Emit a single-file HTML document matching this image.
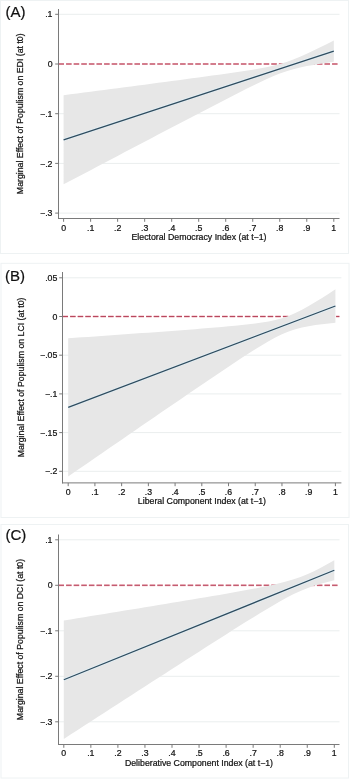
<!DOCTYPE html>
<html><head><meta charset="utf-8"><style>
html,body{margin:0;padding:0;background:#fff;width:350px;height:779px;overflow:hidden}
svg{display:block;will-change:transform}
text{font-family:"Liberation Sans", sans-serif;font-size:8.75px;fill:#111;stroke:#111;stroke-width:0.22px}
</style></head><body>
<svg width="350" height="779" viewBox="0 0 350 779">
<rect x="0.5" y="0.5" width="348.0" height="253.0" fill="#fff" stroke="#eef2f3" stroke-width="1"/>
<line x1="58.5" x2="339.5" y1="14.30" y2="14.30" stroke="#eaeeee" stroke-width="1"/>
<line x1="58.5" x2="339.5" y1="113.70" y2="113.70" stroke="#eaeeee" stroke-width="1"/>
<line x1="58.5" x2="339.5" y1="163.40" y2="163.40" stroke="#eaeeee" stroke-width="1"/>
<line x1="58.5" x2="339.5" y1="213.10" y2="213.10" stroke="#eaeeee" stroke-width="1"/>
<line x1="58.5" x2="337.5" y1="64.00" y2="64.00" stroke="#eeb2bc" stroke-width="1.9" stroke-dasharray="5.5 2.1"/>
<line x1="58.5" x2="337.5" y1="64.00" y2="64.00" stroke="#b8485e" stroke-width="1.0" stroke-dasharray="5.5 2.1"/>
<polygon points="63.60,95.23 70.36,94.35 77.11,93.48 83.87,92.60 90.62,91.72 97.38,90.83 104.13,89.95 110.89,89.07 117.64,88.19 124.40,87.30 131.15,86.42 137.91,85.53 144.66,84.64 151.41,83.75 158.17,82.86 164.92,81.97 171.68,81.07 178.44,80.17 185.19,79.27 191.94,78.36 198.70,77.45 205.45,76.53 212.21,75.60 218.97,74.66 225.72,73.71 232.47,72.74 239.23,71.75 245.98,70.72 252.74,69.64 259.50,68.49 266.25,67.23 273.00,65.79 279.76,64.08 286.52,62.03 293.27,59.59 300.02,56.80 306.78,53.77 313.54,50.58 320.29,47.28 327.05,43.92 333.80,40.50 333.80,61.65 327.05,62.67 320.29,63.74 313.54,64.88 306.78,66.12 300.02,67.53 293.27,69.18 286.52,71.18 279.76,73.56 273.00,76.29 266.25,79.29 259.50,82.46 252.74,85.74 245.98,89.10 239.23,92.51 232.47,95.95 225.72,99.41 218.97,102.90 212.21,106.40 205.45,109.91 198.70,113.42 191.94,116.94 185.19,120.47 178.44,124.01 171.68,127.54 164.92,131.08 158.17,134.62 151.41,138.17 144.66,141.71 137.91,145.26 131.15,148.81 124.40,152.36 117.64,155.91 110.89,159.46 104.13,163.02 97.38,166.57 90.62,170.13 83.87,173.68 77.11,177.24 70.36,180.79 63.60,184.35" fill="#e7e7e7"/>
<line x1="63.60" y1="139.79" x2="333.80" y2="51.08" stroke="#e2f0f6" stroke-width="2.6"/>
<line x1="63.60" y1="139.79" x2="333.80" y2="51.08" stroke="#2f4b5e" stroke-width="1.25"/>
<line x1="58.5" x2="58.5" y1="9" y2="219.0" stroke="#7a7a7a" stroke-width="1.0"/>
<line x1="58.0" x2="339.5" y1="218.5" y2="218.5" stroke="#7a7a7a" stroke-width="1.0"/>
<line x1="55.2" x2="58.5" y1="14.30" y2="14.30" stroke="#7a7a7a" stroke-width="1.0"/>
<text x="52.5" y="17.40" text-anchor="end">.1</text>
<line x1="55.2" x2="58.5" y1="64.00" y2="64.00" stroke="#7a7a7a" stroke-width="1.0"/>
<text x="52.5" y="67.10" text-anchor="end">0</text>
<line x1="55.2" x2="58.5" y1="113.70" y2="113.70" stroke="#7a7a7a" stroke-width="1.0"/>
<text x="52.5" y="116.80" text-anchor="end">−.1</text>
<line x1="55.2" x2="58.5" y1="163.40" y2="163.40" stroke="#7a7a7a" stroke-width="1.0"/>
<text x="52.5" y="166.50" text-anchor="end">−.2</text>
<line x1="55.2" x2="58.5" y1="213.10" y2="213.10" stroke="#7a7a7a" stroke-width="1.0"/>
<text x="52.5" y="216.20" text-anchor="end">−.3</text>
<line x1="63.60" x2="63.60" y1="218.5" y2="221.8" stroke="#7a7a7a" stroke-width="1.0"/>
<text x="63.60" y="230.80" text-anchor="middle">0</text>
<line x1="90.62" x2="90.62" y1="218.5" y2="221.8" stroke="#7a7a7a" stroke-width="1.0"/>
<text x="90.62" y="230.80" text-anchor="middle">.1</text>
<line x1="117.64" x2="117.64" y1="218.5" y2="221.8" stroke="#7a7a7a" stroke-width="1.0"/>
<text x="117.64" y="230.80" text-anchor="middle">.2</text>
<line x1="144.66" x2="144.66" y1="218.5" y2="221.8" stroke="#7a7a7a" stroke-width="1.0"/>
<text x="144.66" y="230.80" text-anchor="middle">.3</text>
<line x1="171.68" x2="171.68" y1="218.5" y2="221.8" stroke="#7a7a7a" stroke-width="1.0"/>
<text x="171.68" y="230.80" text-anchor="middle">.4</text>
<line x1="198.70" x2="198.70" y1="218.5" y2="221.8" stroke="#7a7a7a" stroke-width="1.0"/>
<text x="198.70" y="230.80" text-anchor="middle">.5</text>
<line x1="225.72" x2="225.72" y1="218.5" y2="221.8" stroke="#7a7a7a" stroke-width="1.0"/>
<text x="225.72" y="230.80" text-anchor="middle">.6</text>
<line x1="252.74" x2="252.74" y1="218.5" y2="221.8" stroke="#7a7a7a" stroke-width="1.0"/>
<text x="252.74" y="230.80" text-anchor="middle">.7</text>
<line x1="279.76" x2="279.76" y1="218.5" y2="221.8" stroke="#7a7a7a" stroke-width="1.0"/>
<text x="279.76" y="230.80" text-anchor="middle">.8</text>
<line x1="306.78" x2="306.78" y1="218.5" y2="221.8" stroke="#7a7a7a" stroke-width="1.0"/>
<text x="306.78" y="230.80" text-anchor="middle">.9</text>
<line x1="333.80" x2="333.80" y1="218.5" y2="221.8" stroke="#7a7a7a" stroke-width="1.0"/>
<text x="333.80" y="230.80" text-anchor="middle">1</text>
<text x="199.00" y="240" text-anchor="middle">Electoral Democracy Index (at t−1)</text>
<text transform="translate(23.4,113.75) rotate(-90)" text-anchor="middle">Marginal Effect of Populism on EDI (at t0)</text>
<text x="5.5" y="17.2" style="font-size:15px">(A)</text>
<rect x="1" y="263.3" width="348" height="254.2" fill="#fff" stroke="#eef2f3" stroke-width="1"/>
<line x1="62.5" x2="341.4" y1="277.80" y2="277.80" stroke="#eaeeee" stroke-width="1"/>
<line x1="62.5" x2="341.4" y1="355.20" y2="355.20" stroke="#eaeeee" stroke-width="1"/>
<line x1="62.5" x2="341.4" y1="393.90" y2="393.90" stroke="#eaeeee" stroke-width="1"/>
<line x1="62.5" x2="341.4" y1="432.60" y2="432.60" stroke="#eaeeee" stroke-width="1"/>
<line x1="62.5" x2="341.4" y1="471.30" y2="471.30" stroke="#eaeeee" stroke-width="1"/>
<line x1="62.5" x2="339.4" y1="316.50" y2="316.50" stroke="#eeb2bc" stroke-width="1.9" stroke-dasharray="5.5 2.1"/>
<line x1="62.5" x2="339.4" y1="316.50" y2="316.50" stroke="#b8485e" stroke-width="1.0" stroke-dasharray="5.5 2.1"/>
<polygon points="68.20,338.29 74.88,337.82 81.56,337.36 88.24,336.89 94.92,336.43 101.60,335.96 108.28,335.49 114.96,335.02 121.64,334.54 128.32,334.07 135.00,333.59 141.68,333.12 148.36,332.63 155.04,332.15 161.72,331.66 168.40,331.17 175.08,330.67 181.76,330.17 188.44,329.66 195.12,329.15 201.80,328.62 208.48,328.08 215.16,327.53 221.84,326.95 228.52,326.36 235.20,325.72 241.88,325.05 248.56,324.32 255.24,323.50 261.92,322.55 268.60,321.42 275.28,320.01 281.96,318.22 288.64,315.91 295.32,313.07 302.00,309.73 308.68,306.02 315.36,302.05 322.04,297.90 328.72,293.64 335.40,289.29 335.40,322.66 328.72,323.38 322.04,324.19 315.36,325.11 308.68,326.21 302.00,327.57 295.32,329.30 288.64,331.52 281.96,334.29 275.28,337.56 268.60,341.22 261.92,345.16 255.24,349.29 248.56,353.54 241.88,357.87 235.20,362.27 228.52,366.71 221.84,371.18 215.16,375.68 208.48,380.19 201.80,384.72 195.12,389.27 188.44,393.82 181.76,398.38 175.08,402.95 168.40,407.52 161.72,412.10 155.04,416.68 148.36,421.26 141.68,425.85 135.00,430.44 128.32,435.04 121.64,439.63 114.96,444.23 108.28,448.83 101.60,453.43 94.92,458.03 88.24,462.63 81.56,467.24 74.88,471.84 68.20,476.45" fill="#e7e7e7"/>
<line x1="68.20" y1="407.37" x2="335.40" y2="305.97" stroke="#e2f0f6" stroke-width="2.6"/>
<line x1="68.20" y1="407.37" x2="335.40" y2="305.97" stroke="#2f4b5e" stroke-width="1.25"/>
<line x1="62.5" x2="62.5" y1="272" y2="483.4" stroke="#7a7a7a" stroke-width="1.0"/>
<line x1="62.0" x2="341.4" y1="482.9" y2="482.9" stroke="#7a7a7a" stroke-width="1.0"/>
<line x1="59.2" x2="62.5" y1="277.80" y2="277.80" stroke="#7a7a7a" stroke-width="1.0"/>
<text x="57.3" y="280.90" text-anchor="end">.05</text>
<line x1="59.2" x2="62.5" y1="316.50" y2="316.50" stroke="#7a7a7a" stroke-width="1.0"/>
<text x="57.3" y="319.60" text-anchor="end">0</text>
<line x1="59.2" x2="62.5" y1="355.20" y2="355.20" stroke="#7a7a7a" stroke-width="1.0"/>
<text x="57.3" y="358.30" text-anchor="end">−.05</text>
<line x1="59.2" x2="62.5" y1="393.90" y2="393.90" stroke="#7a7a7a" stroke-width="1.0"/>
<text x="57.3" y="397.00" text-anchor="end">−.1</text>
<line x1="59.2" x2="62.5" y1="432.60" y2="432.60" stroke="#7a7a7a" stroke-width="1.0"/>
<text x="57.3" y="435.70" text-anchor="end">−.15</text>
<line x1="59.2" x2="62.5" y1="471.30" y2="471.30" stroke="#7a7a7a" stroke-width="1.0"/>
<text x="57.3" y="474.40" text-anchor="end">−.2</text>
<line x1="68.20" x2="68.20" y1="482.9" y2="486.2" stroke="#7a7a7a" stroke-width="1.0"/>
<text x="68.20" y="494.60" text-anchor="middle">0</text>
<line x1="94.92" x2="94.92" y1="482.9" y2="486.2" stroke="#7a7a7a" stroke-width="1.0"/>
<text x="94.92" y="494.60" text-anchor="middle">.1</text>
<line x1="121.64" x2="121.64" y1="482.9" y2="486.2" stroke="#7a7a7a" stroke-width="1.0"/>
<text x="121.64" y="494.60" text-anchor="middle">.2</text>
<line x1="148.36" x2="148.36" y1="482.9" y2="486.2" stroke="#7a7a7a" stroke-width="1.0"/>
<text x="148.36" y="494.60" text-anchor="middle">.3</text>
<line x1="175.08" x2="175.08" y1="482.9" y2="486.2" stroke="#7a7a7a" stroke-width="1.0"/>
<text x="175.08" y="494.60" text-anchor="middle">.4</text>
<line x1="201.80" x2="201.80" y1="482.9" y2="486.2" stroke="#7a7a7a" stroke-width="1.0"/>
<text x="201.80" y="494.60" text-anchor="middle">.5</text>
<line x1="228.52" x2="228.52" y1="482.9" y2="486.2" stroke="#7a7a7a" stroke-width="1.0"/>
<text x="228.52" y="494.60" text-anchor="middle">.6</text>
<line x1="255.24" x2="255.24" y1="482.9" y2="486.2" stroke="#7a7a7a" stroke-width="1.0"/>
<text x="255.24" y="494.60" text-anchor="middle">.7</text>
<line x1="281.96" x2="281.96" y1="482.9" y2="486.2" stroke="#7a7a7a" stroke-width="1.0"/>
<text x="281.96" y="494.60" text-anchor="middle">.8</text>
<line x1="308.68" x2="308.68" y1="482.9" y2="486.2" stroke="#7a7a7a" stroke-width="1.0"/>
<text x="308.68" y="494.60" text-anchor="middle">.9</text>
<line x1="335.40" x2="335.40" y1="482.9" y2="486.2" stroke="#7a7a7a" stroke-width="1.0"/>
<text x="335.40" y="494.60" text-anchor="middle">1</text>
<text x="201.95" y="503.7" text-anchor="middle">Liberal Component Index (at t−1)</text>
<text transform="translate(24.0,377.45) rotate(-90)" text-anchor="middle">Marginal Effect of Populism on LCI (at t0)</text>
<text x="5" y="280.6" style="font-size:15px">(B)</text>
<rect x="1" y="524.5" width="347.5" height="253.5" fill="#fff" stroke="#eef2f3" stroke-width="1"/>
<line x1="58.5" x2="339.5" y1="539.80" y2="539.80" stroke="#eaeeee" stroke-width="1"/>
<line x1="58.5" x2="339.5" y1="630.80" y2="630.80" stroke="#eaeeee" stroke-width="1"/>
<line x1="58.5" x2="339.5" y1="676.30" y2="676.30" stroke="#eaeeee" stroke-width="1"/>
<line x1="58.5" x2="339.5" y1="721.80" y2="721.80" stroke="#eaeeee" stroke-width="1"/>
<line x1="58.5" x2="337.5" y1="585.30" y2="585.30" stroke="#eeb2bc" stroke-width="1.9" stroke-dasharray="5.5 2.1"/>
<line x1="58.5" x2="337.5" y1="585.30" y2="585.30" stroke="#b8485e" stroke-width="1.0" stroke-dasharray="5.5 2.1"/>
<polygon points="63.80,620.47 70.56,619.38 77.33,618.29 84.09,617.19 90.85,616.10 97.61,615.00 104.38,613.90 111.14,612.81 117.90,611.71 124.66,610.61 131.43,609.50 138.19,608.40 144.95,607.29 151.71,606.19 158.48,605.08 165.24,603.96 172.00,602.85 178.76,601.73 185.53,600.60 192.29,599.47 199.05,598.34 205.81,597.20 212.57,596.05 219.34,594.89 226.10,593.72 232.86,592.53 239.62,591.32 246.39,590.09 253.15,588.82 259.91,587.51 266.68,586.14 273.44,584.68 280.20,583.10 286.96,581.34 293.73,579.34 300.49,577.01 307.25,574.31 314.01,571.21 320.78,567.78 327.54,564.10 334.30,560.23 334.30,580.34 327.54,581.94 320.78,583.73 314.01,585.77 307.25,588.15 300.49,590.91 293.73,594.06 286.96,597.53 280.20,601.24 273.44,605.13 266.68,609.14 259.91,613.24 253.15,617.40 246.39,621.61 239.62,625.85 232.86,630.11 226.10,634.39 219.34,638.69 212.57,643.01 205.81,647.33 199.05,651.66 192.29,655.99 185.53,660.34 178.76,664.68 172.00,669.04 165.24,673.39 158.48,677.75 151.71,682.11 144.95,686.47 138.19,690.84 131.43,695.21 124.66,699.58 117.90,703.95 111.14,708.32 104.38,712.69 97.61,717.07 90.85,721.44 84.09,725.82 77.33,730.19 70.56,734.57 63.80,738.95" fill="#e7e7e7"/>
<line x1="63.80" y1="679.71" x2="334.30" y2="570.28" stroke="#e2f0f6" stroke-width="2.6"/>
<line x1="63.80" y1="679.71" x2="334.30" y2="570.28" stroke="#2f4b5e" stroke-width="1.25"/>
<line x1="58.5" x2="58.5" y1="534.5" y2="745.0" stroke="#7a7a7a" stroke-width="1.0"/>
<line x1="58.0" x2="339.5" y1="744.5" y2="744.5" stroke="#7a7a7a" stroke-width="1.0"/>
<line x1="55.2" x2="58.5" y1="539.80" y2="539.80" stroke="#7a7a7a" stroke-width="1.0"/>
<text x="52.5" y="542.90" text-anchor="end">.1</text>
<line x1="55.2" x2="58.5" y1="585.30" y2="585.30" stroke="#7a7a7a" stroke-width="1.0"/>
<text x="52.5" y="588.40" text-anchor="end">0</text>
<line x1="55.2" x2="58.5" y1="630.80" y2="630.80" stroke="#7a7a7a" stroke-width="1.0"/>
<text x="52.5" y="633.90" text-anchor="end">−.1</text>
<line x1="55.2" x2="58.5" y1="676.30" y2="676.30" stroke="#7a7a7a" stroke-width="1.0"/>
<text x="52.5" y="679.40" text-anchor="end">−.2</text>
<line x1="55.2" x2="58.5" y1="721.80" y2="721.80" stroke="#7a7a7a" stroke-width="1.0"/>
<text x="52.5" y="724.90" text-anchor="end">−.3</text>
<line x1="63.80" x2="63.80" y1="744.5" y2="747.8" stroke="#7a7a7a" stroke-width="1.0"/>
<text x="63.80" y="756.40" text-anchor="middle">0</text>
<line x1="90.85" x2="90.85" y1="744.5" y2="747.8" stroke="#7a7a7a" stroke-width="1.0"/>
<text x="90.85" y="756.40" text-anchor="middle">.1</text>
<line x1="117.90" x2="117.90" y1="744.5" y2="747.8" stroke="#7a7a7a" stroke-width="1.0"/>
<text x="117.90" y="756.40" text-anchor="middle">.2</text>
<line x1="144.95" x2="144.95" y1="744.5" y2="747.8" stroke="#7a7a7a" stroke-width="1.0"/>
<text x="144.95" y="756.40" text-anchor="middle">.3</text>
<line x1="172.00" x2="172.00" y1="744.5" y2="747.8" stroke="#7a7a7a" stroke-width="1.0"/>
<text x="172.00" y="756.40" text-anchor="middle">.4</text>
<line x1="199.05" x2="199.05" y1="744.5" y2="747.8" stroke="#7a7a7a" stroke-width="1.0"/>
<text x="199.05" y="756.40" text-anchor="middle">.5</text>
<line x1="226.10" x2="226.10" y1="744.5" y2="747.8" stroke="#7a7a7a" stroke-width="1.0"/>
<text x="226.10" y="756.40" text-anchor="middle">.6</text>
<line x1="253.15" x2="253.15" y1="744.5" y2="747.8" stroke="#7a7a7a" stroke-width="1.0"/>
<text x="253.15" y="756.40" text-anchor="middle">.7</text>
<line x1="280.20" x2="280.20" y1="744.5" y2="747.8" stroke="#7a7a7a" stroke-width="1.0"/>
<text x="280.20" y="756.40" text-anchor="middle">.8</text>
<line x1="307.25" x2="307.25" y1="744.5" y2="747.8" stroke="#7a7a7a" stroke-width="1.0"/>
<text x="307.25" y="756.40" text-anchor="middle">.9</text>
<line x1="334.30" x2="334.30" y1="744.5" y2="747.8" stroke="#7a7a7a" stroke-width="1.0"/>
<text x="334.30" y="756.40" text-anchor="middle">1</text>
<text x="199.00" y="766.3" text-anchor="middle">Deliberative Component Index (at t−1)</text>
<text transform="translate(23.4,639.50) rotate(-90)" text-anchor="middle">Marginal Effect of Populism on DCI (at t0)</text>
<text x="5.5" y="539.6" style="font-size:15px">(C)</text>
</svg>
</body></html>
